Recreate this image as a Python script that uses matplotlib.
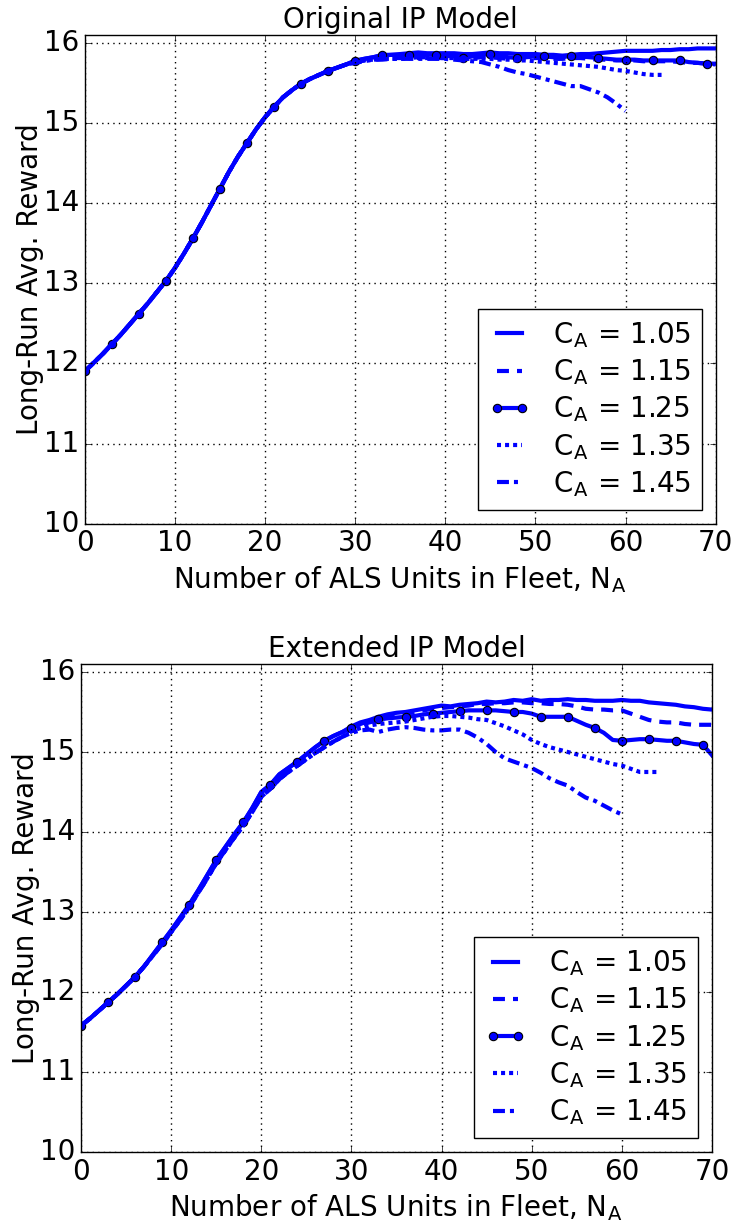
import numpy as np
import matplotlib
matplotlib.use("Agg")
import matplotlib.pyplot as plt

# number of ALS units, one point per unit
n_full = list(range(0, 71))
n_135 = list(range(0, 65))
n_145 = list(range(0, 61))

# ---- Original IP model ----
orig_early = [11.90, 12.01, 12.12, 12.24, 12.36, 12.49, 12.62, 12.75, 12.89, 13.03,
              13.19, 13.37, 13.56, 13.76, 13.97, 14.18, 14.39, 14.58, 14.75, 14.92,
              15.07, 15.20, 15.32, 15.41, 15.49, 15.55, 15.60, 15.65, 15.69, 15.73]
orig_105 = [15.78, 15.80, 15.82, 15.84, 15.85, 15.86, 15.87, 15.88, 15.87, 15.87,
            15.87, 15.87, 15.86, 15.86, 15.87, 15.88, 15.87, 15.87, 15.86, 15.86,
            15.86, 15.85, 15.85, 15.84, 15.85, 15.86, 15.86, 15.87, 15.88, 15.89,
            15.90, 15.90, 15.90, 15.90, 15.91, 15.91, 15.92, 15.92, 15.93, 15.93, 15.93]
orig_115 = [15.76, 15.78, 15.79, 15.80, 15.81, 15.81, 15.81, 15.82, 15.82, 15.81,
            15.81, 15.81, 15.80, 15.81, 15.82, 15.82, 15.81, 15.80, 15.80, 15.80,
            15.81, 15.81, 15.80, 15.80, 15.81, 15.81, 15.80, 15.79, 15.79, 15.78,
            15.78, 15.78, 15.77, 15.77, 15.77, 15.77, 15.76, 15.75, 15.75, 15.74, 15.73]
orig_125 = [15.77, 15.80, 15.82, 15.85, 15.85, 15.85, 15.85, 15.86, 15.85, 15.85,
            15.84, 15.83, 15.81, 15.83, 15.85, 15.86, 15.84, 15.82, 15.81, 15.82,
            15.83, 15.83, 15.82, 15.82, 15.84, 15.83, 15.82, 15.81, 15.80, 15.79,
            15.79, 15.79, 15.78, 15.78, 15.78, 15.78, 15.78, 15.76, 15.75, 15.74, 15.74]
orig_135 = [15.76, 15.78, 15.79, 15.80, 15.80, 15.80, 15.81, 15.81, 15.81, 15.81,
            15.81, 15.81, 15.80, 15.80, 15.80, 15.80, 15.79, 15.79, 15.78, 15.78,
            15.77, 15.76, 15.75, 15.74, 15.73, 15.72, 15.71, 15.70, 15.68, 15.66,
            15.65, 15.63, 15.61, 15.60, 15.60]
orig_145 = [15.75, 15.77, 15.79, 15.79, 15.80, 15.80, 15.80, 15.80, 15.80, 15.80,
            15.80, 15.79, 15.78, 15.77, 15.76, 15.73, 15.70, 15.66, 15.63, 15.61,
            15.58, 15.55, 15.52, 15.49, 15.46, 15.46, 15.42, 15.38, 15.32, 15.24, 15.15]

# ---- Extended IP model ----
ext_early = [11.58, 11.67, 11.77, 11.87, 11.97, 12.08, 12.19, 12.32, 12.47, 12.62,
             12.77, 12.93, 13.09, 13.27, 13.46, 13.65, 13.81, 13.97, 14.12, 14.30,
             14.50, 14.59, 14.72, 14.80, 14.88, 14.97, 15.06, 15.14, 15.20, 15.25]
ext_early_low = [11.58, 11.67, 11.77, 11.87, 11.97, 12.08, 12.19, 12.32, 12.46, 12.60,
                 12.75, 12.90, 13.06, 13.24, 13.42, 13.61, 13.77, 13.93, 14.08, 14.25,
                 14.44, 14.54, 14.66, 14.75, 14.83, 14.91, 14.99, 15.06, 15.13, 15.19]
ext_105 = [15.32, 15.37, 15.40, 15.44, 15.47, 15.49, 15.50, 15.52, 15.54, 15.56,
           15.58, 15.57, 15.59, 15.60, 15.61, 15.63, 15.62, 15.63, 15.65, 15.64,
           15.66, 15.64, 15.65, 15.65, 15.66, 15.65, 15.65, 15.64, 15.64, 15.64,
           15.65, 15.64, 15.64, 15.62, 15.61, 15.60, 15.59, 15.57, 15.56, 15.54, 15.53]
ext_115 = [15.30, 15.34, 15.37, 15.40, 15.43, 15.46, 15.48, 15.50, 15.52, 15.54,
           15.55, 15.56, 15.57, 15.58, 15.60, 15.60, 15.61, 15.61, 15.62, 15.62,
           15.61, 15.61, 15.60, 15.60, 15.59, 15.57, 15.54, 15.53, 15.53, 15.52,
           15.52, 15.48, 15.44, 15.40, 15.38, 15.37, 15.37, 15.35, 15.34, 15.34, 15.34]
ext_125 = [15.30, 15.35, 15.39, 15.41, 15.42, 15.43, 15.44, 15.45, 15.47, 15.48,
           15.49, 15.50, 15.51, 15.52, 15.52, 15.52, 15.52, 15.51, 15.50, 15.50,
           15.48, 15.44, 15.44, 15.44, 15.44, 15.39, 15.34, 15.30, 15.24, 15.15,
           15.14, 15.15, 15.16, 15.16, 15.15, 15.14, 15.14, 15.12, 15.10, 15.09, 14.96]
ext_135 = [15.26, 15.30, 15.33, 15.35, 15.36, 15.37, 15.38, 15.40, 15.42, 15.44,
           15.45, 15.45, 15.44, 15.43, 15.41, 15.40, 15.36, 15.32, 15.27, 15.22,
           15.15, 15.10, 15.06, 15.03, 15.00, 14.97, 14.94, 14.91, 14.88, 14.85,
           14.83, 14.79, 14.75, 14.75, 14.75]
ext_145 = [15.24, 15.27, 15.28, 15.25, 15.28, 15.30, 15.31, 15.30, 15.28, 15.27,
           15.27, 15.28, 15.28, 15.24, 15.18, 15.10, 15.00, 14.92, 14.88, 14.84,
           14.80, 14.74, 14.67, 14.62, 14.58, 14.50, 14.43, 14.39, 14.33, 14.27, 14.22]

labels = ["C$_\\mathregular{A}$ = 1.05", "C$_\\mathregular{A}$ = 1.15",
          "C$_\\mathregular{A}$ = 1.25", "C$_\\mathregular{A}$ = 1.35",
          "C$_\\mathregular{A}$ = 1.45"]

plt.style.use("classic")
plt.rcParams["figure.facecolor"] = "white"
plt.rcParams["savefig.facecolor"] = "white"
plt.rcParams["font.family"] = ["DejaVu Sans"]

blue = "#0000ff"
lw = 3
fs = 20
styles = [dict(linestyle="-"),
          dict(linestyle="--", dashes=(8.6, 5.8)),
          dict(linestyle="-", marker="o", markevery=3, markersize=6,
               markerfacecolor=blue, markeredgecolor="k", markeredgewidth=0.8),
          dict(linestyle=":", dashes=(2.9, 2.9)),
          dict(linestyle="-.", dashes=(8.6, 3.6, 2.9, 3.6))]

fig = plt.figure(figsize=(7.37, 12.21), dpi=100)
ax1 = fig.add_axes([0.115, 0.571, 0.856, 0.4005])
ax2 = fig.add_axes([0.110, 0.0565, 0.856, 0.3997])

series1 = [(n_full, orig_early + orig_105), (n_full, orig_early + orig_115),
           (n_full, orig_early + orig_125), (n_135, orig_early + orig_135),
           (n_145, orig_early + orig_145)]
series2 = [(n_full, ext_early + ext_105), (n_full, ext_early_low + ext_115),
           (n_full, ext_early + ext_125), (n_135, ext_early_low + ext_135),
           (n_145, ext_early_low + ext_145)]

for ax, series, title in [(ax1, series1, "Original IP Model"),
                          (ax2, series2, "Extended IP Model")]:
    for (x, y), st, lab in zip(series, styles, labels):
        ax.plot(x, y, color=blue, lw=lw, label=lab, **st)
    ax.set_xlim(0, 70)
    ax.set_ylim(10, 16.1)
    ax.set_xticks(range(0, 71, 10))
    ax.set_yticks(range(10, 17))
    ax.grid(True, color="k", linestyle=":", linewidth=1)
    ax.tick_params(labelsize=fs)
    ax.set_title(title, fontsize=fs)
    ax.set_xlabel("Number of ALS Units in Fleet, N$_\\mathregular{A}$", fontsize=fs)
    ax.set_ylabel("Long-Run Avg. Reward", fontsize=fs, labelpad=0)
    ax.legend(loc="lower right", fontsize=fs, numpoints=2, handlelength=1.5,
              handletextpad=0.8, labelspacing=0.27, borderpad=0.4,
              frameon=True, fancybox=False)

fig.savefig("out.png", dpi=100)
